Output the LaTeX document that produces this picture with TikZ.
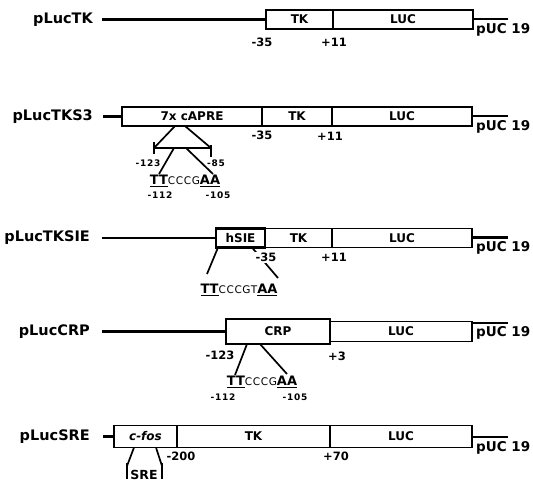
\documentclass[tikz,border=0pt]{standalone}
\usepackage{fontspec}
\setmainfont{DejaVu Sans}
\usetikzlibrary{positioning}
\newcommand\lblfont{\fontsize{14.5}{16}\selectfont\bfseries}
\newcommand\vecfont{\fontsize{13.5}{15}\selectfont\bfseries}
\newcommand\boxfont{\fontsize{12}{13}\selectfont\bfseries}
\newcommand\numfont{\fontsize{11.5}{13}\selectfont\bfseries}
\newcommand\posfont{\fontsize{9}{10}\selectfont\bfseries\addfontfeature{LetterSpace=8}}
\newcommand\pal[1]{{\fontsize{13}{14}\selectfont\bfseries\underline{#1}}}
\newcommand\core[1]{{\fontsize{10.5}{11}\selectfont\addfontfeature{LetterSpace=6}#1}}
\tikzset{
  seg/.style={rectangle, draw, line width=1.5pt, inner sep=0pt, outer sep=0pt,
    minimum height=19pt, font=\boxfont},
  plasmid/.style={anchor=east, inner sep=0pt, font=\lblfont},
  vector/.style={anchor=north west, inner sep=0pt, font=\vecfont},
  backbone/.style={line width=2.2pt},
  site/.style={line width=1.7pt},
  num/.style={inner sep=0pt, font=\numfont},
  basepos/.style={inner sep=0pt, font=\posfont},
  seq/.style={inner sep=0pt}
}

\begin{document}
\begin{tikzpicture}[x=1pt, y=-1pt]
  \useasboundingbox (0,0) rectangle (533,483);

  % pLucTK
  \node[plasmid] (lblTK) at (93,19.5) {pLucTK};
  \node[seg, minimum width=67pt, anchor=west] (tkTK) at (266,19.5) {TK};
  \node[seg, minimum width=140pt, right=0pt of tkTK] (lucTK) {LUC};
  \coordinate (endTK) at (508,19);
  \draw[backbone] ([xshift=9pt]lblTK.east) -- (tkTK.west);
  \draw[backbone] (lucTK.east |- endTK) -- (endTK);
  \node[vector] (pucTK) at ([xshift=-32pt,yshift=-4pt]endTK) {pUC 19};
  \node[num, below=9pt of tkTK.south west, xshift=-4pt] (m35TK) {-35};
  \node[num, below=9pt of lucTK.south west, xshift=1pt] (p11TK) {+11};

  % pLucTKS3
  \node[plasmid] (lblS3) at (93,116.5) {pLucTKS3};
  \node[seg, minimum width=140pt, anchor=west] (apreS3) at (122,116.5) {7x cAPRE};
  \node[seg, minimum width=70pt, right=0pt of apreS3] (tkS3) {TK};
  \node[seg, minimum width=140pt, right=0pt of tkS3] (lucS3) {LUC};
  \coordinate (endS3) at (508,116);
  \draw[backbone] ([xshift=10pt]lblS3.east) -- (apreS3.west);
  \draw[backbone] (lucS3.east |- endS3) -- (endS3);
  \node[vector] (pucS3) at ([xshift=-32pt,yshift=-4pt]endS3) {pUC 19};
  \node[num, below=4.5pt of tkS3.south west] (m35S3) {-35};
  \node[num, below=6pt of lucS3.south west, xshift=-2pt] (p11S3) {+11};
  \coordinate (brLS3) at (154,148);
  \coordinate (brRS3) at (211,148);
  \coordinate (ttS3) at (159,174);
  \coordinate (aaS3) at (213,174);
  \draw[site] ([xshift=-17pt]apreS3.south) -- (brLS3);
  \draw[site] ([xshift=-7pt]apreS3.south) -- (brRS3);
  \draw[site] (brLS3) -- (brRS3);
  \draw[site] (brLS3) ++(0,-6) -- ++(0,12);
  \draw[site] (brRS3) ++(0,-3) -- ++(0,12);
  \draw[site] ([xshift=20pt]brLS3) -- (ttS3);
  \draw[site] ([xshift=-25pt]brRS3) -- (aaS3);
  \node[basepos] (m123S3) at (148,163) {-123};
  \node[basepos] (m85S3) at (216,163) {-85};
  \node[seq] (seqS3) at (185,181) {\pal{TT}\core{CCCG}\pal{AA}};
  \node[basepos] (m112S3) at (160,195) {-112};
  \node[basepos] (m105S3) at (218,195) {-105};

  % pLucTKSIE
  \node[plasmid] (lblSIE) at (90,238) {pLucTKSIE};
  \node[seg, minimum width=49pt, line width=2.4pt, anchor=west] (sieSIE) at (216,238) {hSIE};
  \node[seg, minimum width=67pt, right=0pt of sieSIE] (tkSIE) {TK};
  \node[seg, minimum width=140pt, right=0pt of tkSIE] (lucSIE) {LUC};
  \coordinate (endSIE) at (508,237.5);
  \draw[backbone] ([xshift=12pt]lblSIE.east) -- (sieSIE.west);
  \draw[backbone] (lucSIE.east |- endSIE) -- (endSIE);
  \node[vector] (pucSIE) at ([xshift=-32pt,yshift=-4pt]endSIE) {pUC 19};
  \coordinate (ttSIE) at (207,274);
  \coordinate (aaSIE) at (278,278);
  \draw[site] ([xshift=2pt]sieSIE.south west) -- (ttSIE);
  \draw[site] ([xshift=-13pt]sieSIE.south east) -- (aaSIE);
  \node[num, fill=white, inner sep=1pt, below=4.5pt of sieSIE.south east, xshift=1pt] (m35SIE) {-35};
  \node[num, below=5.5pt of lucSIE.south west, xshift=2pt] (p11SIE) {+11};
  \node[seq] (seqSIE) at (239,290) {\pal{TT}\core{CCCGT}\pal{AA}};

  % pLucCRP
  \node[plasmid] (lblCRP) at (90,331.5) {pLucCRP};
  \node[seg, minimum width=104pt, minimum height=25pt, anchor=west] (crpCRP) at (226,331.5) {CRP};
  \node[seg, minimum width=142pt, minimum height=20pt, right=0pt of crpCRP] (lucCRP) {LUC};
  \coordinate (endCRP) at (508,323);
  \draw[backbone] ([xshift=12pt]lblCRP.east) -- (crpCRP.west);
  \draw[backbone] (lucCRP.east |- endCRP) -- (endCRP);
  \node[vector] (pucCRP) at ([xshift=-32pt,yshift=-3pt]endCRP) {pUC 19};
  \node[num, below=6.5pt of crpCRP.south west, xshift=-6pt] (m123CRP) {-123};
  \node[num, below=7.5pt of crpCRP.south east, xshift=7pt] (p3CRP) {+3};
  \coordinate (ttCRP) at (235,375);
  \coordinate (aaCRP) at (287,374);
  \draw[site] ([xshift=-31pt]crpCRP.south) -- (ttCRP);
  \draw[site] ([xshift=-18pt]crpCRP.south) -- (aaCRP);
  \node[seq] (seqCRP) at (262,382) {\pal{TT}\core{CCCG}\pal{AA}};
  \node[basepos] (m112CRP) at (223,397) {-112};
  \node[basepos] (m105CRP) at (295,397) {-105};

  % pLucSRE
  \node[plasmid] (lblSRE) at (90,436.5) {pLucSRE};
  \node[seg, minimum width=63pt, minimum height=22pt, anchor=west] (fosSRE) at (114,436.5) {\textit{c-fos}};
  \node[seg, minimum width=153pt, minimum height=22pt, right=0pt of fosSRE] (tkSRE) {TK};
  \node[seg, minimum width=142pt, minimum height=22pt, right=0pt of tkSRE] (lucSRE) {LUC};
  \coordinate (endSRE) at (508,437);
  \draw[backbone] ([xshift=13pt]lblSRE.east) -- (fosSRE.west);
  \draw[backbone] (lucSRE.east |- endSRE) -- (endSRE);
  \node[vector] (pucSRE) at ([xshift=-32pt,yshift=-4pt]endSRE) {pUC 19};
  \node[num, below=4.5pt of fosSRE.south east, xshift=4pt] (m200SRE) {-200};
  \node[num, below=4.5pt of lucSRE.south west, xshift=6pt] (p70SRE) {+70};
  \coordinate (sreL) at (127,466);
  \coordinate (sreR) at (162,466);
  \draw[site] ([xshift=-11.5pt]fosSRE.south) -- (sreL);
  \draw[site] ([xshift=10.5pt]fosSRE.south) -- (sreR);
  \draw[site] (sreL) ++(0,-3) -- ++(0,16);
  \draw[site] (sreR) ++(0,-3) -- ++(0,16);
  \node[num, font=\fontsize{12.5}{13}\selectfont\bfseries] (sre) at (144,475) {SRE};
\end{tikzpicture}
\end{document}
